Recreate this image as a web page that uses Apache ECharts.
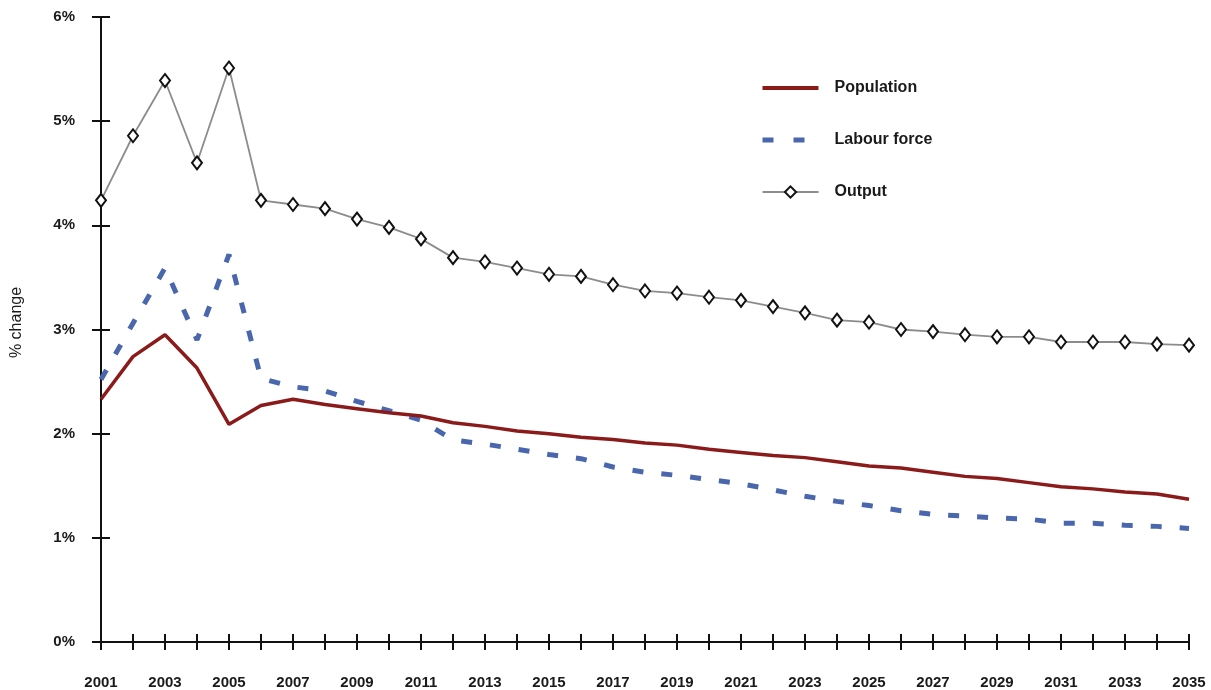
<!DOCTYPE html>
<html><head><meta charset="utf-8">
<script src="https://cdn.jsdelivr.net/npm/echarts@6/dist/echarts.min.js"></script>
<style>html,body{margin:0;padding:0;background:#fff}#c{width:1211px;height:690px}</style>
</head><body><div id="c"></div>
<script>
const years = ['2001','2002','2003','2004','2005','2006','2007','2008','2009','2010','2011','2012','2013','2014','2015','2016','2017','2018','2019','2020','2021','2022','2023','2024','2025','2026','2027','2028','2029','2030','2031','2032','2033','2034','2035'];
const population = [2.33,2.74,2.95,2.63,2.09,2.27,2.33,2.28,2.24,2.20,2.17,2.105,2.07,2.025,2.00,1.965,1.945,1.91,1.89,1.85,1.82,1.79,1.77,1.73,1.69,1.67,1.63,1.59,1.57,1.53,1.49,1.47,1.44,1.42,1.37];
const labourForce = [2.52,3.06,3.59,2.90,3.72,2.53,2.45,2.41,2.31,2.22,2.13,1.94,1.90,1.85,1.80,1.76,1.68,1.63,1.60,1.56,1.52,1.46,1.40,1.35,1.31,1.26,1.225,1.21,1.19,1.18,1.14,1.14,1.12,1.11,1.09];
const output = [4.24,4.86,5.39,4.60,5.51,4.24,4.20,4.16,4.06,3.98,3.87,3.69,3.65,3.59,3.53,3.51,3.43,3.37,3.35,3.31,3.28,3.22,3.16,3.09,3.07,3.00,2.98,2.95,2.93,2.93,2.88,2.88,2.88,2.86,2.85];
const yTicks = [0,1,2,3,4,5,6];

const font = '"Liberation Sans", Arial, sans-serif';
const chart = echarts.init(document.getElementById('c'), null, {renderer:'canvas'});
const axisLineStyle = {color:'#111', width:2};
const hiddenSymbol = {color:'rgba(0,0,0,0)', borderColor:'rgba(0,0,0,0)', borderWidth:0, opacity:0};
chart.setOption({
  animation:false,
  backgroundColor:'#fff',
  grid:{left:101,right:22,top:17,bottom:48,containLabel:false},
  legend:{
    orient:'vertical', left:760, top:80, padding:0, itemWidth:56, itemHeight:14, itemGap:36,
    textStyle:{fontFamily:font, fontSize:16, fontWeight:'bold', color:'#1a1a1a', padding:[0,0,0,11]},
    data:[
      {name:'Population', itemStyle:hiddenSymbol, lineStyle:{color:'#8b1a1a', width:4}},
      {name:'Labour force', itemStyle:hiddenSymbol, lineStyle:{color:'#4a67ae', width:5, type:[11,20]}},
      {name:'Output', lineStyle:{color:'#8c8c8c', width:2}}
    ]
  },
  xAxis:[{
    type:'category', data:years, boundaryGap:false,
    axisLine:{lineStyle:axisLineStyle},
    axisTick:{show:true, length:8, interval:0, lineStyle:{color:'#111', width:2}},
    axisLabel:{interval:1, margin:33, fontFamily:font, fontSize:15, fontWeight:'bold', color:'#1a1a1a'},
    splitLine:{show:false}
  },{
    type:'category', data:years, boundaryGap:false, position:'bottom',
    axisLine:{show:false},
    axisTick:{show:true, inside:true, length:8, interval:0, lineStyle:{color:'#111', width:2}},
    axisLabel:{show:false}, splitLine:{show:false}
  }],
  yAxis:[{
    type:'value', min:0, max:6, interval:1,
    name:'% change', nameLocation:'middle', nameGap:76, nameRotate:90,
    nameTextStyle:{fontFamily:font, fontSize:16, color:'#1a1a1a', padding:[0,0,0,14]},
    axisLine:{show:true, lineStyle:axisLineStyle},
    axisTick:{show:true, length:9, lineStyle:{color:'#111', width:2}},
    axisLabel:{margin:26, fontFamily:font, fontSize:15, fontWeight:'bold', color:'#1a1a1a',
      formatter:v => yTicks.includes(v) ? v + '%' : ''},
    splitLine:{show:false}
  },{
    type:'value', min:0, max:6, interval:1, position:'left',
    axisLine:{show:false},
    axisTick:{show:true, inside:true, length:9, lineStyle:{color:'#111', width:2}},
    axisLabel:{show:false}, splitLine:{show:false}
  }],
  series:[{
    name:'Population', type:'line', data:population, xAxisIndex:0, yAxisIndex:0,
    showSymbol:false, symbol:'none',
    lineStyle:{color:'#8b1a1a', width:3.5}, itemStyle:{color:'#8b1a1a'}, z:3
  },{
    name:'Labour force', type:'line', data:labourForce, xAxisIndex:0, yAxisIndex:0,
    showSymbol:false, symbol:'none',
    lineStyle:{color:'#4a67ae', width:5, type:[11,18]}, itemStyle:{color:'#4a67ae'}, z:2
  },{
    name:'Output', type:'line', data:output, xAxisIndex:0, yAxisIndex:0,
    symbol:'diamond', symbolSize:[10,13], showSymbol:true,
    lineStyle:{color:'#8c8c8c', width:1.8},
    itemStyle:{color:'#fff', borderColor:'#111', borderWidth:2}, z:4
  }]
});
</script></body></html>
